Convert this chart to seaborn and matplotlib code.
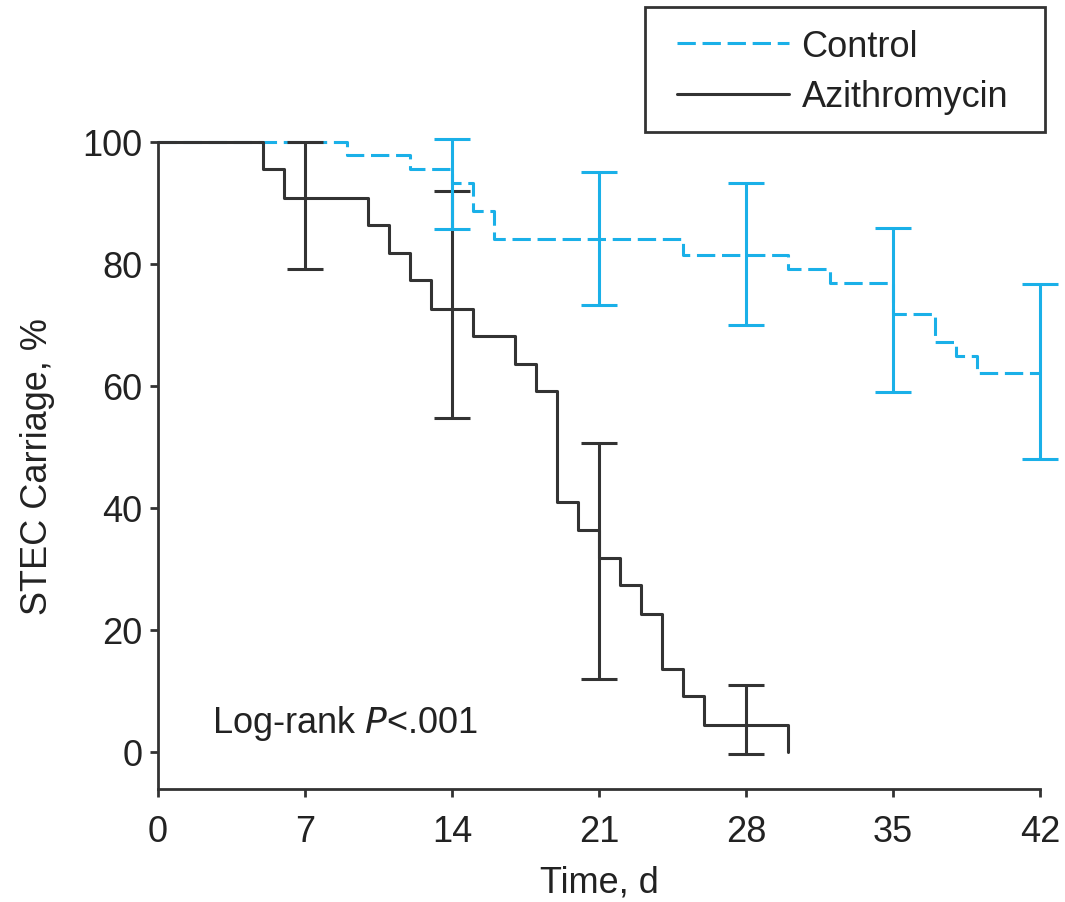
import matplotlib
matplotlib.use("Agg")
import matplotlib.pyplot as plt
import seaborn as sns
import pandas as pd
from matplotlib.patches import Rectangle

# ---- data ----
azi_time = [0, 5, 6, 10, 11, 12, 13, 15, 17, 18, 19, 20, 21, 22, 23, 24, 25, 26, 30]
azi_surv = [100, 95.5, 90.9, 86.4, 81.8, 77.3, 72.7, 68.2, 63.6, 59.1, 40.9, 36.4,
            31.8, 27.3, 22.7, 13.6, 9.1, 4.5, 0]

ctrl_time = [0, 9, 12, 14, 15, 16, 25, 30, 32, 35, 37, 38, 39, 42]
ctrl_surv = [100, 97.9, 95.5, 93.3, 88.7, 84.1, 81.4, 79.1, 76.9, 71.8, 67.2, 64.9, 62.1, 62.1]

azi_ci_day = [7, 14, 21, 28]
azi_ci_mid = [90.9, 72.7, 31.8, 4.5]
azi_ci_low = [79.1, 54.8, 11.9, -0.4]
azi_ci_high = [100, 91.9, 50.6, 11.0]

ctrl_ci_day = [14, 21, 28, 35, 42]
ctrl_ci_mid = [93.3, 84.1, 81.4, 71.8, 62.1]
ctrl_ci_low = [85.8, 73.2, 70.0, 59.0, 48.0]
ctrl_ci_high = [100.5, 95.0, 93.3, 85.9, 76.7]

x_ticks = [0, 7, 14, 21, 28, 35, 42]
y_ticks = [0, 20, 40, 60, 80, 100]

# ---- style ----
sns.set_style("ticks")
plt.rcParams['font.family'] = ['Liberation Sans', 'DejaVu Sans']

BLUE = "#1AB0E8"
BLACK = "#333333"
TXT = "#222222"
LW = 2.2
FS = 26

fig = plt.figure(figsize=(10.65, 9.03), dpi=100)
ax = fig.add_axes([158 / 1065, 1 - 790 / 903, (1040 - 158) / 1065, (790 - 143) / 903])

ctrl_df = pd.DataFrame({"t": ctrl_time, "s": ctrl_surv})
azi_df = pd.DataFrame({"t": azi_time, "s": azi_surv})

sns.lineplot(data=ctrl_df, x="t", y="s", ax=ax, estimator=None, sort=False,
             drawstyle="steps-post", color=BLUE, lw=LW, dashes=False,
             linestyle=(0, (6, 2.2)), label="Control", clip_on=False)
sns.lineplot(data=azi_df, x="t", y="s", ax=ax, estimator=None, sort=False,
             drawstyle="steps-post", color=BLACK, lw=LW, label="Azithromycin",
             clip_on=False)

def bars(days, mid, low, high, color):
    yerr = [[m - l for m, l in zip(mid, low)], [h - m for m, h in zip(mid, high)]]
    eb = ax.errorbar(days, mid, yerr=yerr, fmt="none", ecolor=color, elinewidth=LW,
                     capsize=13, capthick=LW)
    for art in eb.lines[1]:
        art.set_clip_on(False)
    for art in eb.lines[2]:
        art.set_clip_on(False)

bars(azi_ci_day, azi_ci_mid, azi_ci_low, azi_ci_high, BLACK)
bars(ctrl_ci_day, ctrl_ci_mid, ctrl_ci_low, ctrl_ci_high, BLUE)

ax.set_xlim(0, 42)
ax.set_ylim(-6.07, 100)
ax.set_xticks(x_ticks)
ax.set_yticks(y_ticks)
ax.spines['top'].set_visible(False)
ax.spines['right'].set_visible(False)
for sp in ['left', 'bottom']:
    ax.spines[sp].set_linewidth(2.0)
    ax.spines[sp].set_color(BLACK)
ax.tick_params(axis='both', length=6, width=2.0, color=BLACK, labelsize=FS,
               labelcolor=TXT)
ax.tick_params(axis='x', pad=12)
ax.tick_params(axis='y', pad=5)

ax.set_xlabel("Time, d", fontsize=FS, color=TXT, labelpad=11)
ax.set_ylabel("STEC Carriage, %", fontsize=FS, color=TXT, labelpad=20)

ax.text(2.55, 4.8, "Log-rank $\\it{P}$<.001", fontsize=FS, color=TXT,
        va="center", ha="left")

leg = ax.legend(loc="upper left", bbox_to_anchor=(677 / 1065, 1 - 30 / 903),
                bbox_transform=fig.transFigure, borderaxespad=0, borderpad=0,
                fontsize=FS, frameon=False, handlelength=3.1, handletextpad=0.35,
                labelspacing=0.42)
for t in leg.get_texts():
    t.set_color(TXT)

fig.patches.append(Rectangle((645 / 1065, 1 - 133 / 903), 400 / 1065, 125 / 903,
                             transform=fig.transFigure, fill=False,
                             edgecolor=BLACK, linewidth=2.0))

fig.savefig("out.png", dpi=100)
